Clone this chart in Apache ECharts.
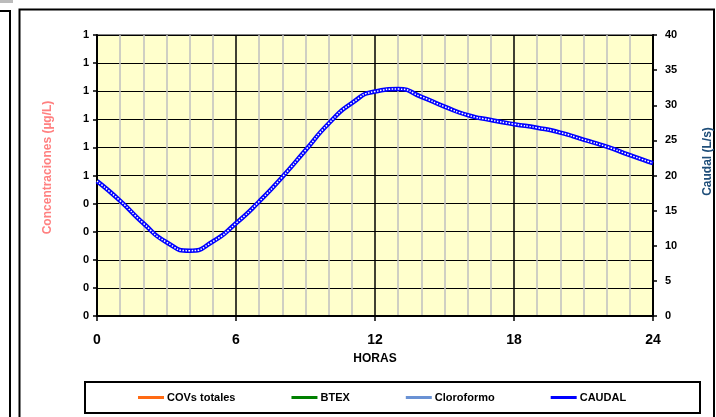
<!DOCTYPE html>
<html>
<head>
<meta charset="utf-8">
<script src="https://cdn.jsdelivr.net/npm/echarts@6/dist/echarts.min.js"></script>
<style>html,body{margin:0;padding:0;background:#fff;}#c{width:716px;height:417px;}</style>
</head>
<body>
<div id="c"></div>
<script>
// ---- data ----
var hours = [0,1,2,3,4,5,6,7,8,9,10,11,12,13,14,15,16,17,18,19,20,21,22,23,24];
var caudal = [19.2,16.4,13.2,10.5,9.3,10.6,13.2,16.3,19.8,23.6,27.4,30.3,31.95,32.3,31.2,29.8,28.6,27.9,27.3,26.8,26.1,25.1,24.1,22.9,21.75];
var covsTotales = [];
var btex = [];
var cloroformo = [];
var leftTickLabels = ['0','0','0','0','0','1','1','1','1','1','1'];
var seriesNames = ['COVs totales','BTEX','Cloroformo','CAUDAL'];

var FONT = 'Liberation Sans, Arial, sans-serif';
var caudalPairs = hours.map(function(h,i){return [h, caudal[i]];});

var chart = echarts.init(document.getElementById('c'), null, {renderer:'canvas'});
chart.setOption({
  animation:false,
  backgroundColor:'#ffffff',
  textStyle:{fontFamily:FONT},
  grid:{left:97, right:63, top:35, bottom:101, show:true, backgroundColor:'#FFFFCC', borderColor:'#808080', borderWidth:2, outerBoundsMode:'none', containLabel:false},
  xAxis:{
    type:'value', min:0, max:24, interval:6,
    name:'HORAS', nameLocation:'middle', nameGap:37,
    nameTextStyle:{fontFamily:FONT, fontWeight:'bold', fontSize:12, color:'#000'},
    axisLine:{show:true, onZero:false, lineStyle:{color:'#000', width:2}},
    axisTick:{show:true, length:5, lineStyle:{color:'#000', width:1.5}},
    axisLabel:{fontFamily:FONT, fontWeight:'bold', fontSize:14, color:'#000', margin:17},
    splitLine:{show:true, lineStyle:{color:'#000', width:1.5}},
    minorTick:{show:false, splitNumber:6},
    minorSplitLine:{show:true, lineStyle:{color:'#C0C0C0', width:1.5}}
  },
  yAxis:[{
    type:'value', min:0, max:1, interval:0.1, position:'left',
    name:'Concentraciones (µg/L)', nameLocation:'middle', nameGap:43, nameRotate:90,
    nameTextStyle:{fontFamily:FONT, fontWeight:'bold', fontSize:12, color:'#FF8080', padding:[0,0,0,16]},
    axisLine:{show:true, lineStyle:{color:'#000', width:2}},
    axisTick:{show:true, length:4, lineStyle:{color:'#000', width:1.5}},
    axisLabel:{fontFamily:FONT, fontWeight:'bold', fontSize:11, color:'#000', margin:8,
      formatter:function(v){return leftTickLabels[Math.round(v*10)];}},
    splitLine:{show:true, lineStyle:{color:'#000', width:1.2}}
  },{
    type:'value', min:0, max:40, interval:5, position:'right',
    name:'Caudal (L/s)', nameLocation:'middle', nameGap:49, nameRotate:90,
    nameTextStyle:{fontFamily:FONT, fontWeight:'bold', fontSize:12, color:'#1F4E79', padding:[0,0,0,28]},
    axisLine:{show:true, lineStyle:{color:'#000', width:2}},
    axisTick:{show:true, length:4, lineStyle:{color:'#000', width:1.5}},
    axisLabel:{fontFamily:FONT, fontWeight:'bold', fontSize:11, color:'#000', margin:12},
    splitLine:{show:false}
  }],
  legend:{
    data:seriesNames, left:138, top:392, itemGap:56, itemWidth:26, itemHeight:3, icon:'rect',
    textStyle:{fontFamily:FONT, fontWeight:'bold', fontSize:11, color:'#000', padding:[0,0,0,-2]},
    padding:0
  },
  series:[
    {name:'COVs totales', type:'line', yAxisIndex:0, data:covsTotales, color:'#FF6A13', showSymbol:false},
    {name:'BTEX', type:'line', yAxisIndex:0, data:btex, color:'#008000', showSymbol:false},
    {name:'Cloroformo', type:'line', yAxisIndex:0, data:cloroformo, color:'#6A92D4', showSymbol:false},
    {name:'CAUDAL', type:'line', yAxisIndex:1, data:caudalPairs, color:'#0000FF', smooth:0.6, showSymbol:false,
      lineStyle:{color:'#0000FF', width:4.5}, z:5},
    {name:'caudal-dots', type:'line', yAxisIndex:1, data:caudalPairs, smooth:0.6, showSymbol:false,
      lineStyle:{color:'#FFFFFF', width:1.5, type:[1.5,1.5]}, z:6, silent:true}
  ],
  graphic:[
    {type:'rect', shape:{x:0, y:0, width:13, height:3}, style:{fill:'#BBBBBB'}, silent:true},
    {type:'polyline', shape:{points:[[0,11],[10,11],[10,420]]}, style:{stroke:'#000', lineWidth:2, fill:null}, silent:true},
    {type:'rect', shape:{x:19.5, y:9.5, width:694.5, height:420}, style:{stroke:'#000', lineWidth:2, fill:null}, silent:true},
    {type:'rect', shape:{x:85, y:382, width:615, height:31}, style:{stroke:'#000', lineWidth:2, fill:null}, silent:true}
  ]
});
</script>
</body>
</html>
